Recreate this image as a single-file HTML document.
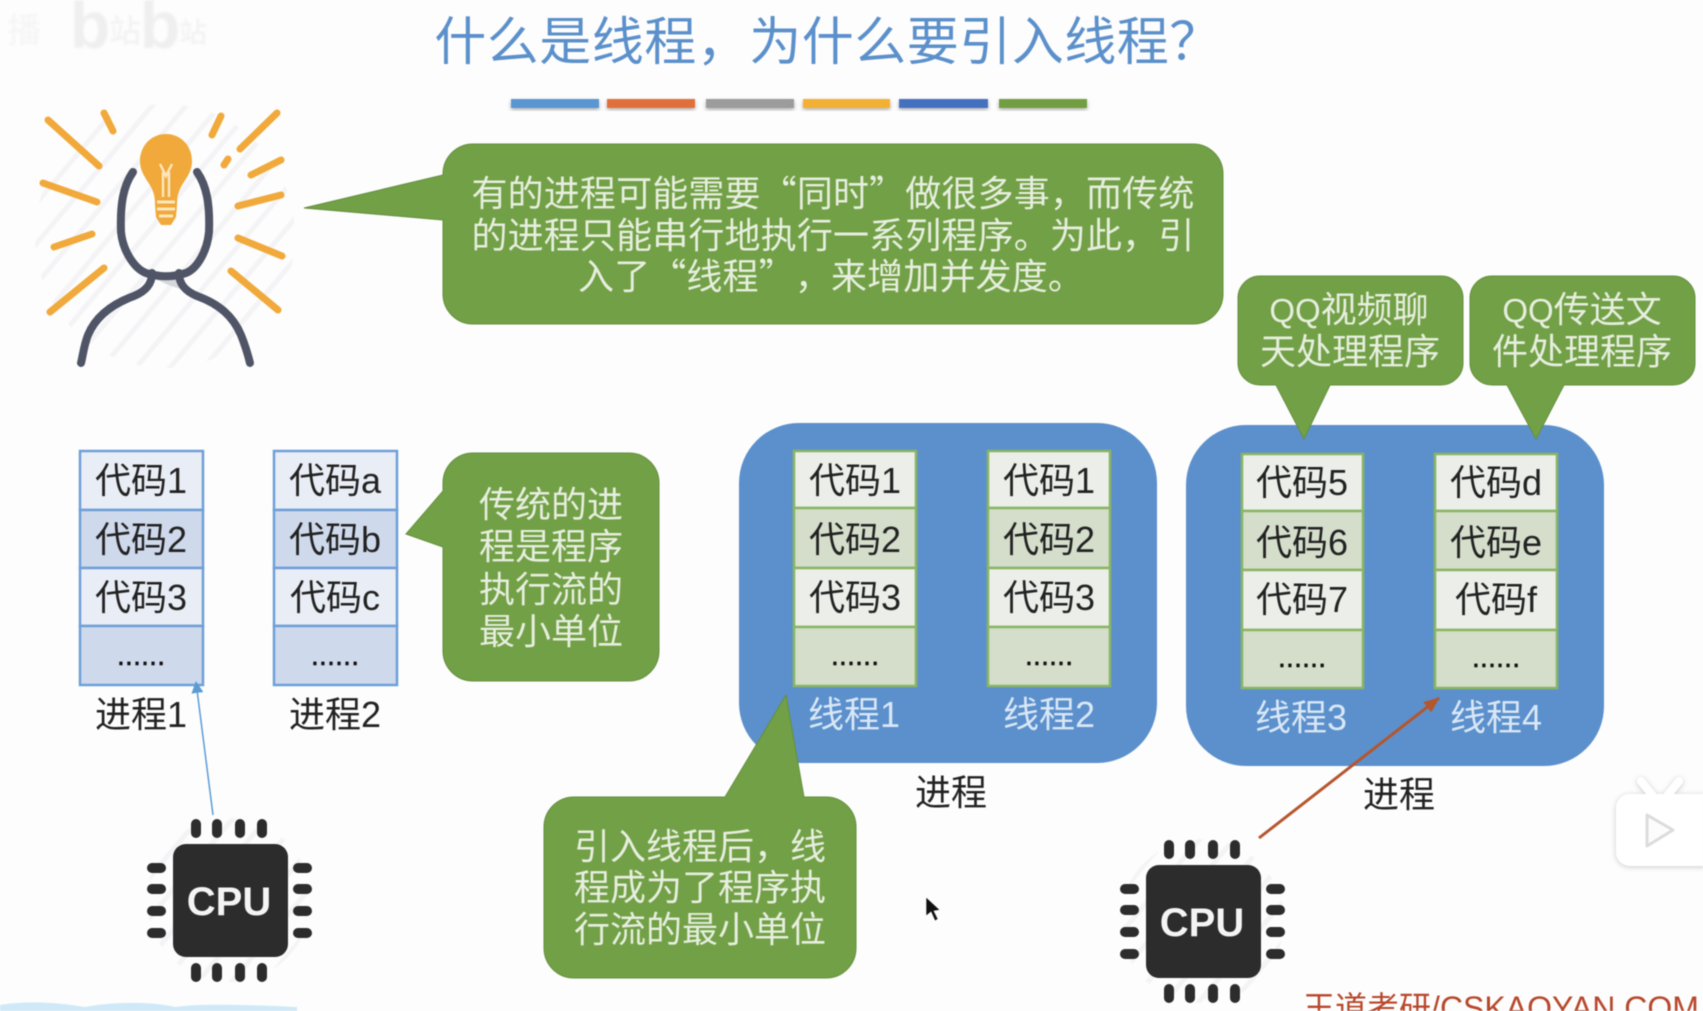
<!DOCTYPE html>
<html lang="zh-CN">
<head>
<meta charset="utf-8">
<title>什么是线程，为什么要引入线程？</title>
<style>
html,body{margin:0;padding:0;background:#fdfdfd;width:1703px;height:1011px;overflow:hidden}
svg{display:block;position:absolute;left:0;top:0;filter:blur(.45px)}
text{font-family:"Liberation Sans","Noto Sans CJK SC",sans-serif;text-anchor:middle;text-spacing-trim:space-all}
.t{font-size:36px;fill:#222}
.w{font-size:36px;fill:#e6eede}
.m{font-family:"Noto Sans CJK SC",sans-serif;letter-spacing:.15px}
.l{font-size:36px;fill:#d9e7f6}
.d{font-size:29px;fill:#111;stroke:#111;stroke-width:.5}
.c{font-size:40px;fill:#f4f4f4;font-weight:bold}
.g{fill:#72a046}
.r1{fill:#e9edf5;stroke:#6f9fd8;stroke-width:2.5}
.r2{fill:#cfd9ec;stroke:#6f9fd8;stroke-width:2.5}
.s1{fill:#ebeee9;stroke:#8ab562;stroke-width:2.5}
.s2{fill:#d4decb;stroke:#8ab562;stroke-width:2.5}
</style>
</head>
<body>
<svg width="1703" height="1011" viewBox="0 0 1703 1011" xmlns="http://www.w3.org/2000/svg">
<defs>
<pattern id="st" width="26" height="26" patternUnits="userSpaceOnUse" patternTransform="rotate(40)">
<rect x="0" y="0" width="5" height="26" fill="#f4f4f6"/>
</pattern>
<g id="chip">
<rect x="173" y="844" width="115" height="113" rx="13" fill="#2c2c2c"/>
<g fill="#2c2c2c">
<rect x="191" y="819" width="10" height="19" rx="5"/><rect x="212" y="819" width="10" height="19" rx="5"/><rect x="235" y="819" width="10" height="19" rx="5"/><rect x="257" y="819" width="10" height="19" rx="5"/>
<rect x="191" y="963" width="10" height="19" rx="5"/><rect x="212" y="963" width="10" height="19" rx="5"/><rect x="235" y="963" width="10" height="19" rx="5"/><rect x="257" y="963" width="10" height="19" rx="5"/>
<rect x="147" y="863" width="19" height="10" rx="5"/><rect x="147" y="884" width="19" height="10" rx="5"/><rect x="147" y="906" width="19" height="10" rx="5"/><rect x="147" y="928" width="19" height="10" rx="5"/>
<rect x="293" y="863" width="19" height="10" rx="5"/><rect x="293" y="884" width="19" height="10" rx="5"/><rect x="293" y="906" width="19" height="10" rx="5"/><rect x="293" y="928" width="19" height="10" rx="5"/>
</g>
</g>
<filter id="sh" x="-20%" y="-20%" width="140%" height="150%"><feDropShadow dx="0" dy="2" stdDeviation="2" flood-color="#000" flood-opacity=".3"/></filter>
<filter id="sh2" x="-20%" y="-20%" width="140%" height="140%"><feDropShadow dx="0" dy="1" stdDeviation="3" flood-color="#000" flood-opacity=".2"/></filter>
<filter id="bl"><feGaussianBlur stdDeviation="1"/></filter>
<marker id="ab" markerWidth="12" markerHeight="14" refX="11" refY="6" orient="auto" markerUnits="userSpaceOnUse"><path d="M0 0L12 6L0 12Z" fill="#5b9bd5"/></marker>
<marker id="ao" markerWidth="16" markerHeight="14" refX="15" refY="6.5" orient="auto" markerUnits="userSpaceOnUse"><path d="M0 0L16 6.500L0 13Z" fill="#b5562d"/></marker>
</defs>

<!-- watermark -->
<g filter="url(#bl)">
<text x="24" y="42" style="font-size:34px;fill:#f4f4f4">播</text>
<text x="90" y="48" style="font-size:66px;font-weight:bold;fill:#efefef">b</text>
<text x="125" y="42" style="font-size:32px;fill:#f0f0f0">站</text>
<text x="160" y="48" style="font-size:66px;font-weight:bold;fill:#efefef">b</text>
<text x="193" y="42" style="font-size:28px;fill:#f0f0f0">站</text>
</g>

<!-- title -->
<text x="828" y="60" style="font-size:52px;fill:#5b90cb;letter-spacing:.5px;font-family:'Noto Sans CJK SC',sans-serif">什么是线程，为什么要引入线程？</text>
<g filter="url(#sh)">
<rect x="511" y="99" width="88" height="9" fill="#5a96d2"/>
<rect x="607" y="99" width="88" height="9" fill="#e0703a"/>
<rect x="706" y="99" width="88" height="9" fill="#9c9c9c"/>
<rect x="803" y="99" width="87" height="9" fill="#f2b134"/>
<rect x="899" y="99" width="89" height="9" fill="#4470bf"/>
<rect x="999" y="99" width="88" height="9" fill="#6f9e40"/>
</g>

<!-- idea icon -->
<ellipse cx="165" cy="236" rx="130" ry="132" fill="url(#st)"/>
<g stroke="#f0a93a" stroke-width="7" stroke-linecap="round" fill="none">
<path d="M48 120L99 166M104 113L113 131M43 183L97 202M54 247L92 234M104 268L50 312M221 116L212 135M277 113L240 149M228 159L224 165M281 160L251 175M281 195L238 206M238 238L282 256M231 271L278 310"/>
</g>
<path d="M152 277L179 277L186 291L166 284Z" fill="#d6d7dc"/>
<g stroke="#4f5466" stroke-width="8" stroke-linecap="round" fill="none">
<path d="M133 172C123 186 120 205 121 232C123 252 136 272 150 274C160 277 172 277 182 274C196 272 207 252 209 232C210 205 207 186 197 172"/>
<path d="M152 273C152 284 146 291 134 296C112 304 96 316 88 335C84 345 83 355 81 363"/>
<path d="M179 273C179 284 185 291 197 296C219 304 233 316 241 335C245 345 248 355 250 363"/>
</g>
<path d="M166 134C151 134 140 146 140 161C140 172 146 178 151 187C154 193 155 197 155 205L156 217L161 225L171 225L176 217L177 205C177 197 178 193 181 187C186 178 192 172 192 161C192 146 181 134 166 134Z" fill="#f0a93a"/>
<g stroke="#fbe6bd" stroke-width="2.500" fill="none">
<path d="M160 164L166 176L172 164M163 172V197M169 172V197"/>
<path d="M157 202H175M157 209H175M159 216H173" stroke-width="3"/>
</g>

<!-- main callout -->
<path class="g" d="M304 208L443 175V174A30 30 0 0 1 473 144H1193A30 30 0 0 1 1223 174V294A30 30 0 0 1 1193 324H473A30 30 0 0 1 443 294V220Z" stroke="#648f3d" stroke-width="1"/>
<text class="w m" x="833" y="206">有的进程可能需要“同时”做很多事，而传统</text>
<text class="w m" x="833" y="248">的进程只能串行地执行一系列程序。为此，引</text>
<text class="w m" x="831" y="289">入了“线程”，来增加并发度。</text>

<!-- process stacks -->
<rect class="r1" x="80" y="451" width="123" height="59"/><rect class="r2" x="80" y="510" width="123" height="58"/><rect class="r1" x="80" y="568" width="123" height="58"/><rect class="r2" x="80" y="626" width="123" height="59"/>
<text class="t" x="141" y="493">代码1</text><text class="t" x="141" y="552">代码2</text><text class="t" x="141" y="610">代码3</text><text class="d" x="141" y="665">......</text>
<text class="t" x="141" y="727">进程1</text>

<rect class="r1" x="274" y="451" width="123" height="59"/><rect class="r2" x="274" y="510" width="123" height="58"/><rect class="r1" x="274" y="568" width="123" height="58"/><rect class="r2" x="274" y="626" width="123" height="59"/>
<text class="t" x="335" y="493">代码a</text><text class="t" x="335" y="552">代码b</text><text class="t" x="335" y="610">代码c</text><text class="d" x="335" y="665">......</text>
<text class="t" x="335" y="727">进程2</text>

<!-- callout 2 -->
<path class="g" d="M406 534L443 491V483A30 30 0 0 1 473 453H629A30 30 0 0 1 659 483V651A30 30 0 0 1 629 681H473A30 30 0 0 1 443 651V547Z" stroke="#648f3d" stroke-width="1"/>
<text class="w" x="551" y="517">传统的进</text>
<text class="w" x="551" y="559">程是程序</text>
<text class="w" x="551" y="602">执行流的</text>
<text class="w" x="551" y="644">最小单位</text>

<!-- blue process boxes -->
<rect x="739" y="423" width="418" height="340" rx="60" fill="#5b90cc"/>
<rect x="1186" y="425" width="418" height="341" rx="60" fill="#5b90cc"/>

<g>
<rect class="s1" x="794" y="451" width="122" height="57"/><rect class="s2" x="794" y="508" width="122" height="60"/><rect class="s1" x="794" y="568" width="122" height="59"/><rect class="s2" x="794" y="627" width="122" height="59"/>
<text class="t" x="855" y="493">代码1</text><text class="t" x="855" y="552">代码2</text><text class="t" x="855" y="610">代码3</text><text class="d" x="855" y="665">......</text>
<rect class="s1" x="988" y="451" width="122" height="57"/><rect class="s2" x="988" y="508" width="122" height="60"/><rect class="s1" x="988" y="568" width="122" height="59"/><rect class="s2" x="988" y="627" width="122" height="59"/>
<text class="t" x="1049" y="493">代码1</text><text class="t" x="1049" y="552">代码2</text><text class="t" x="1049" y="610">代码3</text><text class="d" x="1049" y="665">......</text>
<rect class="s1" x="1242" y="454" width="121" height="57"/><rect class="s2" x="1242" y="511" width="121" height="59"/><rect class="s1" x="1242" y="570" width="121" height="60"/><rect class="s2" x="1242" y="630" width="121" height="58"/>
<text class="t" x="1302" y="495">代码5</text><text class="t" x="1302" y="555">代码6</text><text class="t" x="1302" y="612">代码7</text><text class="d" x="1302" y="667">......</text>
<rect class="s1" x="1435" y="454" width="122" height="57"/><rect class="s2" x="1435" y="511" width="122" height="59"/><rect class="s1" x="1435" y="570" width="122" height="60"/><rect class="s2" x="1435" y="630" width="122" height="58"/>
<text class="t" x="1496" y="495">代码d</text><text class="t" x="1496" y="555">代码e</text><text class="t" x="1496" y="612">代码f</text><text class="d" x="1496" y="667">......</text>
</g>
<text class="l" x="854" y="727">线程1</text>
<text class="l" x="1049" y="727">线程2</text>
<text class="l" x="1301" y="730">线程3</text>
<text class="l" x="1496" y="730">线程4</text>
<text class="t" x="951" y="805">进程</text>
<text class="t" x="1399" y="807">进程</text>

<!-- QQ callouts -->
<path class="g" d="M1260 276H1441A22 22 0 0 1 1463 298V363A22 22 0 0 1 1441 385H1330L1304 439L1276 385H1260A22 22 0 0 1 1238 363V298A22 22 0 0 1 1260 276Z" stroke="#648f3d" stroke-width="1"/>
<text class="w" x="1349" y="322"><tspan style="font-size:33px">QQ</tspan>视频聊</text>
<text class="w" x="1350" y="364">天处理程序</text>
<path class="g" d="M1492 276H1673A22 22 0 0 1 1695 298V363A22 22 0 0 1 1673 385H1564L1536 439L1507 385H1492A22 22 0 0 1 1470 363V298A22 22 0 0 1 1492 276Z" stroke="#648f3d" stroke-width="1"/>
<text class="w" x="1582" y="322"><tspan style="font-size:33px">QQ</tspan>传送文</text>
<text class="w" x="1582" y="364">件处理程序</text>

<!-- callout 3 -->
<path class="g" d="M786 695L804 797H826A30 30 0 0 1 856 827V948A30 30 0 0 1 826 978H574A30 30 0 0 1 544 948V827A30 30 0 0 1 574 797H725Z" stroke="#648f3d" stroke-width="1"/>
<text class="w" x="700" y="859">引入线程后，线</text>
<text class="w" x="700" y="900">程成为了程序执</text>
<text class="w" x="700" y="942">行流的最小单位</text>

<!-- CPUs -->
<ellipse cx="229" cy="900" rx="82" ry="82" fill="url(#st)"/>
<use href="#chip"/>
<text class="c" x="229" y="915">CPU</text>
<ellipse cx="1202" cy="921" rx="82" ry="82" fill="url(#st)"/>
<use href="#chip" transform="translate(973,21)"/>
<text class="c" x="1202" y="936">CPU</text>

<!-- arrows -->
<line x1="213" y1="815" x2="196" y2="682" stroke="#5b9bd5" stroke-width="1.500" marker-end="url(#ab)"/>
<line x1="1259" y1="838" x2="1439" y2="698" stroke="#b5562d" stroke-width="3" marker-end="url(#ao)"/>

<!-- cursor -->
<path d="M926 897V916L931 912L935 921L938 919L934 911L940 910Z" fill="#111" stroke="#fff" stroke-width=".6"/>

<!-- bottom decorations -->
<path d="M0 1011V1005C30 1000 60 1003 85 1007C110 1002 150 1001 175 1007C200 1003 250 1005 297 1007V1011Z" fill="#cfe9f8"/>
<text x="1501" y="1019" style="font-size:32px;fill:#b8472b">王道考研/CSKAOYAN.COM</text>

<!-- play badge -->
<g filter="url(#sh2)">
<path d="M1641 781L1653 796M1679 781L1667 796" stroke="#fff" stroke-width="8" stroke-linecap="round"/>
<rect x="1616" y="794" width="110" height="72" rx="14" fill="#fff"/>
</g>
<path d="M1647 815L1673 830L1647 846Z" fill="#fcfcfc" stroke="#dcdcdc" stroke-width="3" stroke-linejoin="round"/>
</svg>
</body>
</html>
